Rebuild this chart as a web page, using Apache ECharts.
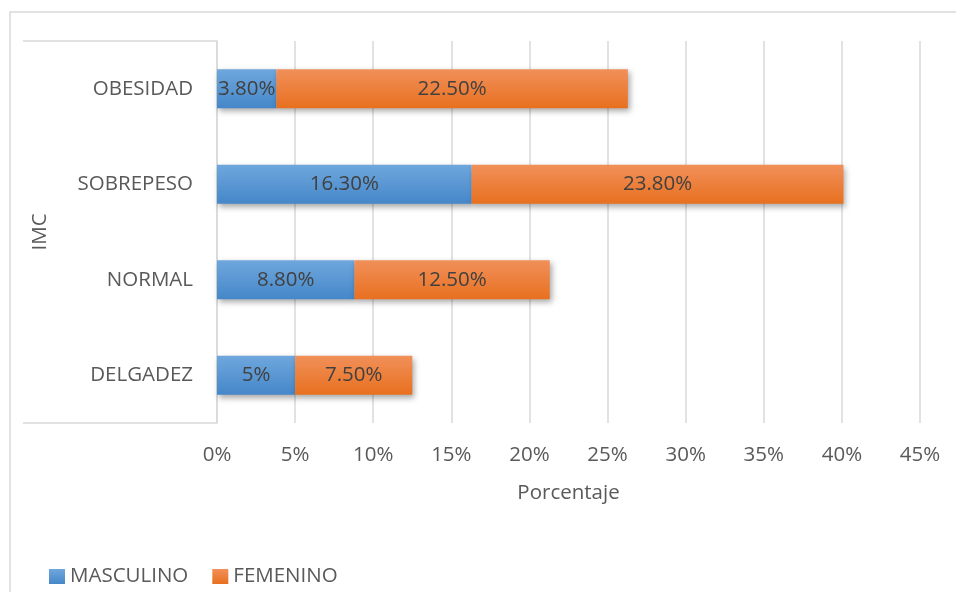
<!DOCTYPE html>
<html>
<head>
<meta charset="utf-8">
<script src="https://cdn.jsdelivr.net/npm/echarts@6/dist/echarts.min.js"></script>
<style>
  html, body { margin: 0; padding: 0; background: #fff; }
  #main { width: 956px; height: 592px; }
</style>
</head>
<body>
<div id="main"></div>
<script>
const categories = ["DELGADEZ", "NORMAL", "SOBREPESO", "OBESIDAD"];
const masculino = [5, 8.8, 16.3, 3.8];
const femenino = [7.5, 12.5, 23.8, 22.5];
const xTicks = { min: 0, max: 45, interval: 5 };

const font = "'Open Sans', sans-serif";

// formato tipo Excel: 5% / 8.80%
function pct(v) {
  return Number.isInteger(v) ? v + "%" : v.toFixed(2) + "%";
}

function grad(top, bottom) {
  return new echarts.graphic.LinearGradient(0, 0, 0, 1, [
    { offset: 0, color: top },
    { offset: 1, color: bottom }
  ]);
}

const shadow = {
  shadowColor: "rgba(0,0,0,0.35)",
  shadowBlur: 6,
  shadowOffsetX: 2,
  shadowOffsetY: 3
};

const chart = echarts.init(document.getElementById("main"));
const option = {
  backgroundColor: "#fff",
  animation: false,
  textStyle: { fontFamily: font },
  grid: { left: 217, right: 36, top: 41, bottom: 169 },
  legend: {
    left: 44,
    top: 561,
    itemWidth: 16,
    itemHeight: 15,
    itemGap: 24,
    icon: "rect",
    textStyle: { color: "#595959", fontSize: 20.5, fontFamily: font },
    data: ["MASCULINO", "FEMENINO"]
  },
  xAxis: {
    type: "value",
    min: xTicks.min,
    max: xTicks.max,
    interval: xTicks.interval,
    name: "Porcentaje",
    nameLocation: "middle",
    nameGap: 60,
    nameTextStyle: { color: "#595959", fontSize: 20.5, fontFamily: font },
    axisLine: { show: false },
    axisTick: { show: false },
    axisLabel: {
      color: "#595959",
      fontSize: 20.5,
      margin: 22,
      formatter: "{value}%"
    },
    splitLine: { lineStyle: { color: "#d9d9d9", width: 1.5 } }
  },
  yAxis: {
    type: "category",
    data: categories,
    name: "IMC",
    nameLocation: "middle",
    nameRotate: 90,
    nameGap: 166,
    nameTextStyle: { color: "#595959", fontSize: 20.5, fontFamily: font },
    axisLine: { show: true, lineStyle: { color: "#d9d9d9", width: 1.5 } },
    axisTick: { show: false },
    axisLabel: { color: "#595959", fontSize: 20.5, margin: 24 }
  },
  graphic: [
    {
      type: "rect",
      shape: { x: 10, y: 12, width: 980, height: 620 },
      style: { fill: "none", stroke: "#d9d9d9", lineWidth: 1.5 },
      silent: true
    },
    {
      type: "line",
      shape: { x1: 23, y1: 41, x2: 217, y2: 41 },
      style: { stroke: "#d9d9d9", lineWidth: 1.5 },
      silent: true
    },
    {
      type: "line",
      shape: { x1: 23, y1: 423, x2: 217, y2: 423 },
      style: { stroke: "#d9d9d9", lineWidth: 1.5 },
      silent: true
    }
  ],
  series: [
    {
      name: "MASCULINO",
      type: "bar",
      stack: "total",
      barWidth: 39,
      data: masculino,
      itemStyle: Object.assign({ color: grad("#6fa7dd", "#4587c9") }, shadow),
      label: {
        show: true,
        position: "inside",
        color: "#404040",
        fontSize: 20.5,
        formatter: p => pct(p.value)
      }
    },
    {
      name: "FEMENINO",
      type: "bar",
      stack: "total",
      barWidth: 39,
      data: femenino,
      itemStyle: Object.assign({ color: grad("#f1905a", "#e8701f") }, shadow),
      label: {
        show: true,
        position: "inside",
        color: "#404040",
        fontSize: 20.5,
        formatter: p => pct(p.value)
      }
    }
  ]
};
chart.setOption(option);
window.addEventListener("resize", chart.resize);
</script>
</body>
</html>
